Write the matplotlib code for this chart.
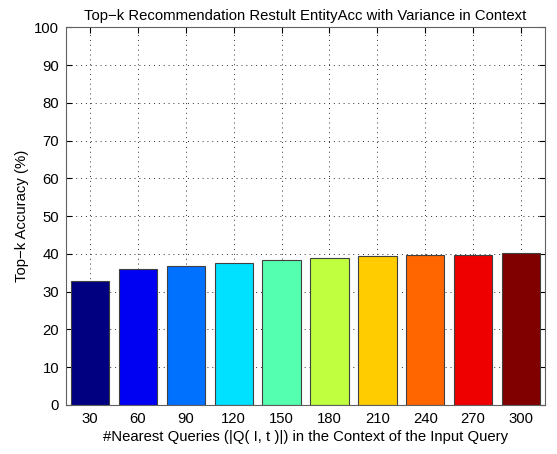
import numpy as np
import matplotlib.pyplot as plt

plt.rcParams['font.family'] = ['Liberation Sans', 'DejaVu Sans']

# data
neighbours = ['30', '60', '90', '120', '150', '180', '210', '240', '270', '300']
accuracy = [32.8, 36.0, 36.9, 37.6, 38.5, 38.8, 39.5, 39.6, 39.8, 40.1]

# jet-like colours as in the original figure
colors = ['#000080', '#0000f2', '#0070ff', '#00e0ff', '#55ffb0',
          '#c0ff40', '#ffcc00', '#ff6600', '#ee0000', '#800000']

fig = plt.figure(figsize=(5.57, 4.54), dpi=100)
ax = fig.add_axes([0.1185, 0.108, 0.8600, 0.832])

pos = np.arange(1, len(neighbours) + 1)
ax.bar(pos, accuracy, width=0.8, color=colors, edgecolor='#404040', linewidth=0.8, zorder=2)

ax.set_xlim(0.5, 10.5)
ax.set_ylim(0, 100)
ax.set_xticks(pos)
ax.set_xticklabels(neighbours)
ax.set_yticks(np.arange(0, 101, 10))
ax.tick_params(direction='in', labelsize=10.7, length=4, top=True, right=True, pad=5)
ax.grid(True, linestyle=(0, (1, 4)), color='#303030', linewidth=0.7, zorder=0)
ax.set_axisbelow(True)
for s in ax.spines.values():
    s.set_color('#606060')

ax.set_title('Top\u2212k Recommendation Restult EntityAcc with Variance in Context', fontsize=10.7, pad=5)
ax.set_xlabel('#Nearest Queries (|Q( I, t )|) in the Context of the Input Query', fontsize=10.7, labelpad=3)
ax.set_ylabel('Top\u2212k Accuracy (%)', fontsize=10.7, labelpad=4)

fig.savefig('out.png', dpi=100)
